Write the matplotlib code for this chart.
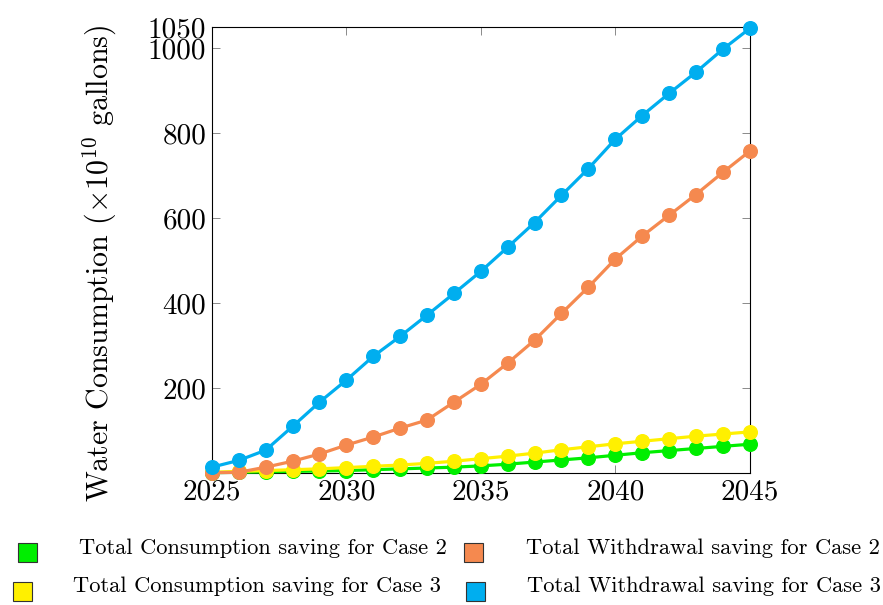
import matplotlib
matplotlib.use("Agg")
import matplotlib.pyplot as plt
from matplotlib.patches import Rectangle

plt.rcParams['font.family'] = 'serif'
plt.rcParams['font.serif'] = ['cmr10']
plt.rcParams['mathtext.fontset'] = 'cm'
plt.rcParams['axes.unicode_minus'] = False

years = list(range(2025, 2046))

cons_case2 = [1, 2, 3, 4, 5, 6, 8, 10, 12, 14, 17, 21, 26, 31, 36, 42, 48, 53, 58, 63, 68]
cons_case3 = [2, 4, 6, 8, 10, 13, 16, 19, 23, 28, 34, 40, 47, 55, 62, 69, 75, 81, 87, 92, 97]
with_case2 = [1, 2, 14, 28, 45, 66, 85, 106, 125, 167, 209, 259, 313, 376, 438, 504, 558, 607, 656, 708, 758]
with_case3 = [14, 30, 54, 110, 167, 219, 275, 322, 372, 423, 475, 532, 590, 654, 717, 786, 842, 894, 944, 998, 1047]

labels = ["Total Consumption saving for Case 2",
          "Total Withdrawal saving for Case 2",
          "Total Consumption saving for Case 3",
          "Total Withdrawal saving for Case 3"]
colors = {"c2": "#00ee00", "w2": "#f5894f", "c3": "#fff000", "w3": "#00aeef"}

yticks = [200, 400, 600, 800, 1000, 1050]
xticks = [2025, 2030, 2035, 2040, 2045]

fig = plt.figure(figsize=(8.83, 6.05), dpi=100)
ax = fig.add_axes([0.240, 0.218, 0.609, 0.737])

series = [(cons_case2, colors["c2"]), (cons_case3, colors["c3"]),
          (with_case2, colors["w2"]), (with_case3, colors["w3"])]
for vals, col in series:
    ax.plot(years, vals, color=col, lw=2.3, marker='o', ms=9.8,
            clip_on=False, zorder=3)

ax.set_xlim(2025, 2045)
ax.set_ylim(0, 1050)
ax.set_xticks(xticks)
ax.set_yticks(yticks)
ax.set_xticklabels([str(x) for x in xticks])
ax.set_yticklabels([str(y) for y in yticks])
ax.tick_params(direction='in', top=True, right=True, labelsize=21,
               length=6, width=0.6, color='#777777', pad=4)
for sp in ax.spines.values():
    sp.set_linewidth(0.8)

ax.set_ylabel(r"Water Consumption ($\times 10^{10}$ gallons)", fontsize=21.6, labelpad=21)
ax.yaxis.label.set_y(0.471)

# legend laid out below the axes, two columns
# (square x, square y, text x, text y, label, colour)
leg_items = [
    (0.0208, 0.071, 0.0895, 0.094, labels[0], colors["c2"]),
    (0.5255, 0.071, 0.5955, 0.094, labels[1], colors["w2"]),
    (0.0144, 0.007, 0.0825, 0.031, labels[2], colors["c3"]),
    (0.5280, 0.007, 0.5970, 0.031, labels[3], colors["w3"]),
]
for bx, by, tx, ty, text, col in leg_items:
    fig.patches.append(Rectangle((bx, by), 0.0215, 0.0314, transform=fig.transFigure,
                                 facecolor=col, edgecolor='#333333', lw=0.8))
    fig.text(tx, ty, text, fontsize=16.2, va='center', ha='left')

fig.savefig("out.png", dpi=100)
